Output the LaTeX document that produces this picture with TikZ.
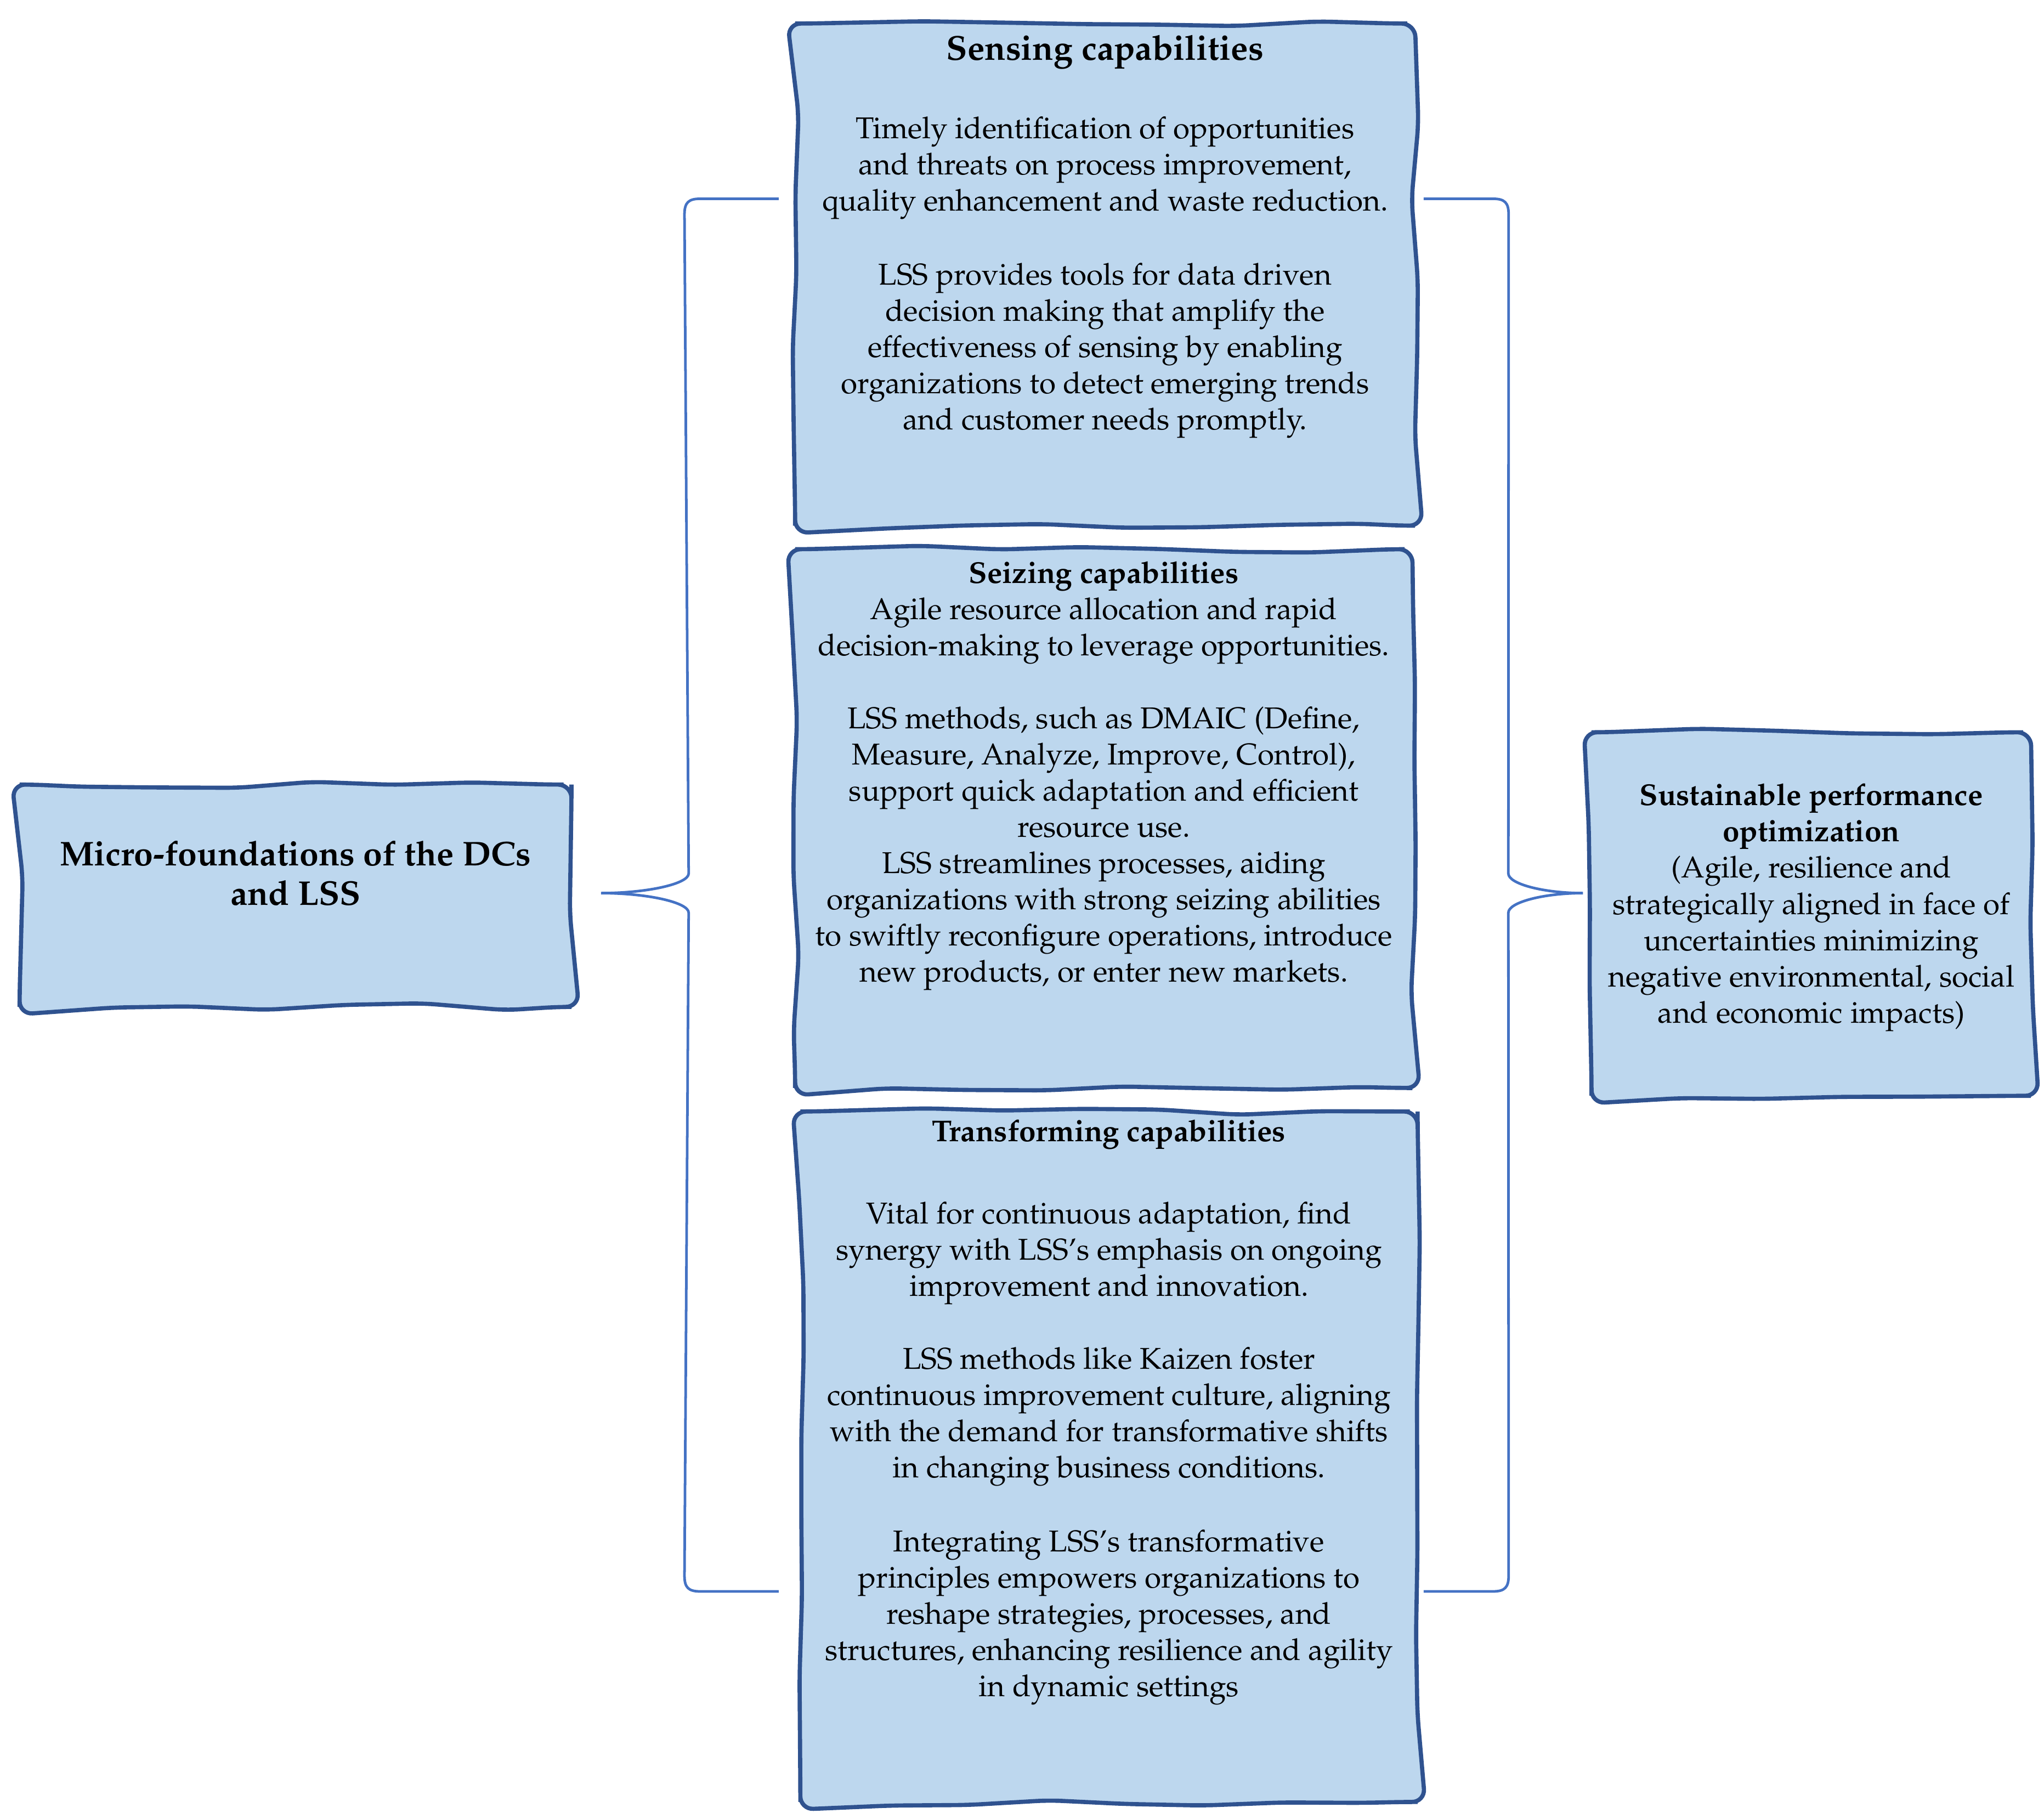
\documentclass[tikz,border=0pt]{standalone}
\usepackage[T1]{fontenc}
\usepackage{mathpazo}
\usetikzlibrary{calc,decorations.pathmorphing}

\definecolor{boxfill}{RGB}{189,215,238}
\definecolor{boxline}{RGB}{47,82,143}
\definecolor{bracecol}{RGB}{68,114,196}

\newcommand{\bodyfont}{\fontsize{11.5}{13.85}\selectfont}
\newcommand{\cellbody}[3]{\makebox[#1]{\parbox[c][#2][t]{300pt}{\centering\bodyfont #3}}}

\tikzset{
  dcbox/.style={draw=boxline, fill=boxfill, line width=1.6pt, inner sep=0pt,
    decorate, decoration={random steps, segment length=30pt, amplitude=1.4pt,
      pre length=3pt, post length=3pt},
    rounded corners=5pt},
  curly/.style={draw=bracecol, line width=1pt},
}

\begin{document}
\pgfmathsetseed{42}
\begin{tikzpicture}[x=0.5pt, y=-0.5pt]
    \useasboundingbox (0,0) rectangle (1563,1391);

    % left box
    \node[dcbox] (micro) at (226,685) {\cellbody{211pt}{85pt}{\rule{0pt}{31pt}{\bfseries\fontsize{13.1}{15}\selectfont Micro-foundations of the DCs\\and LSS\par}}};

    % middle boxes
    \node[dcbox] (sens) at (845,210) {\cellbody{237pt}{192pt}{\rule{0pt}{14pt}{\bfseries\fontsize{13.2}{16}\selectfont Sensing capabilities}\\[16pt]
        Timely identification of opportunities\\
        and threats on process improvement,\\
        quality enhancement and waste reduction.\\[14.5pt]
        LSS provides tools for data driven\\
        decision making that amplify the\\
        effectiveness of sensing by enabling\\
        organizations to detect emerging trends\\
        and customer needs promptly.}};

    \node[dcbox] (seiz) at (844,626) {\cellbody{236pt}{206pt}{\rule{0pt}{13pt}{\bfseries Seizing capabilities}\\
        Agile resource allocation and rapid\\
        decision-making to leverage opportunities.\\[14pt]
        LSS methods, such as DMAIC (Define,\\
        Measure, Analyze, Improve, Control),\\
        support quick adaptation and efficient\\
        resource use.\\
        LSS streamlines processes, aiding\\
        organizations with strong seizing abilities\\
        to swiftly reconfigure operations, introduce\\
        new products, or enter new markets.}};

    \node[dcbox] (trans) at (848,1114) {\cellbody{236pt}{264pt}{\rule{0pt}{11.5pt}{\bfseries Transforming capabilities}\\[17.5pt]
        Vital for continuous adaptation, find\\
        synergy with LSS's emphasis on ongoing\\
        improvement and innovation.\\[14pt]
        LSS methods like Kaizen foster\\
        continuous improvement culture, aligning\\
        with the demand for transformative shifts\\
        in changing business conditions.\\[14.5pt]
        Integrating LSS's transformative\\
        principles empowers organizations to\\
        reshape strategies, processes, and\\
        structures, enhancing resilience and agility\\
        in dynamic settings}};

    % right box
    \node[dcbox] (sust) at (1385,699) {\cellbody{168pt}{139pt}{\rule{0pt}{28pt}{\bfseries Sustainable performance\\optimization}\\
        (Agile, resilience and\\
        strategically aligned in face of\\
        uncertainties minimizing\\
        negative environmental, social\\
        and economic impacts)}};

    % brace ends
    \coordinate (lbTop) at ($(sens.west)+(-11,-58)$);
    \coordinate (lbBot) at ($(trans.west)+(-15,103)$);
    \coordinate (lbTip) at ($(micro.east)+(21,-2)$);
    \coordinate (rbTop) at ($(sens.east)+(5,-58)$);
    \coordinate (rbBot) at ($(trans.east)+(3,103)$);
    \coordinate (rbTip) at ($(sust.west)+(-5,-16)$);

    \draw[curly] (lbTop) -- ++(-60,0) .. controls +(-9,0) and +(0,-9) .. ++(-12,12)
        -- ($(lbTip)+(67,-15)$) .. controls +(0,8) and +(35,0) .. (lbTip)
        .. controls +(35,0) and +(0,-8) .. ++(67,15)
        -- ($(lbBot)+(-72,-12)$) .. controls +(0,9) and +(-9,0) .. ++(12,12) -- (lbBot);

    \draw[curly] (rbTop) -- ++(53,0) .. controls +(9,0) and +(0,-9) .. ++(12,12)
        -- ($(rbTip)+(-57,-15)$) .. controls +(0,8) and +(-30,0) .. (rbTip)
        .. controls +(-30,0) and +(0,-8) .. ++(-57,15)
        -- ($(rbBot)+(65,-12)$) .. controls +(0,9) and +(9,0) .. ++(-12,12) -- (rbBot);

\end{tikzpicture}
\end{document}
